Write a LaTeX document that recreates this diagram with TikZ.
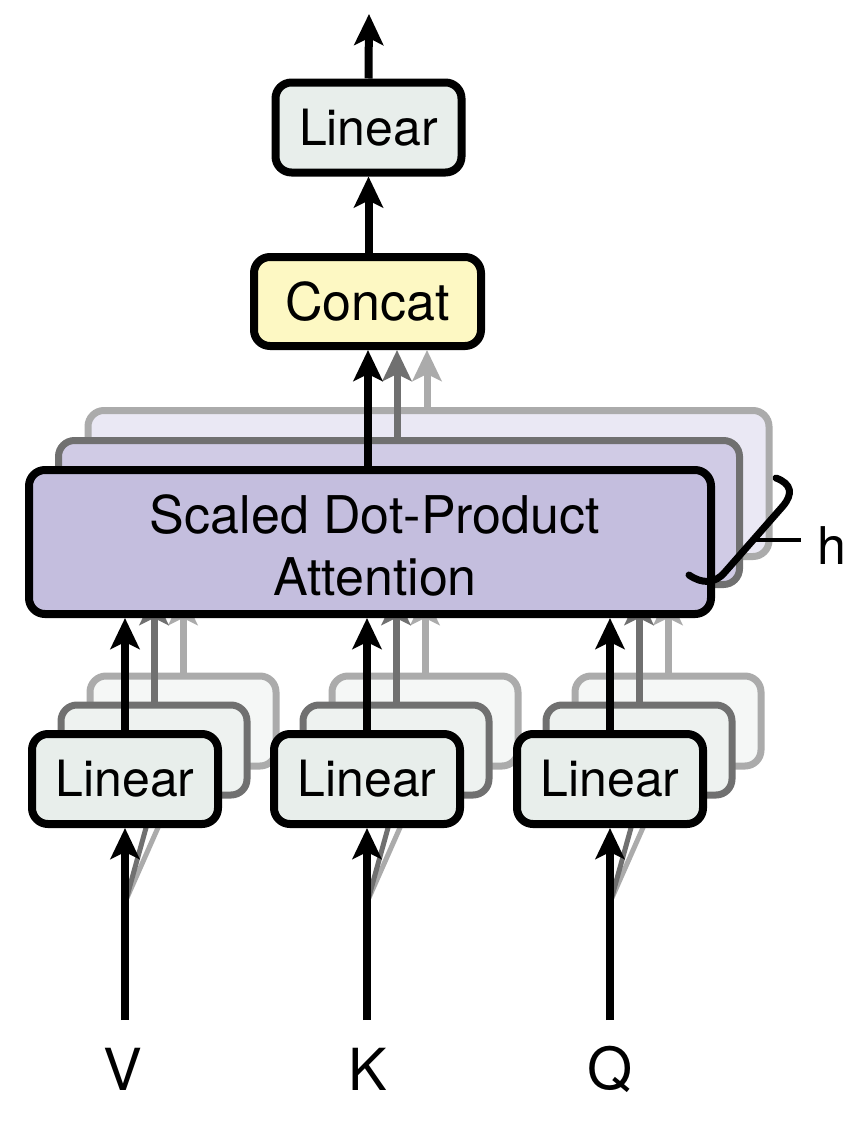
\documentclass[tikz,border=0pt]{standalone}
\usepackage{fontspec}
\setmainfont{TeX Gyre Heros}
\usetikzlibrary{arrows.meta}
\definecolor{linfill}{RGB}{232,238,235}
\definecolor{linfillb}{RGB}{238,242,240}
\definecolor{linfillc}{RGB}{245,247,246}
\definecolor{catfill}{RGB}{253,248,195}
\definecolor{attfill}{RGB}{196,190,222}
\definecolor{attfillb}{RGB}{208,203,229}
\definecolor{attfillc}{RGB}{234,232,244}
\definecolor{darkg}{RGB}{112,112,112}
\definecolor{lightg}{RGB}{171,171,171}
\tikzset{
  boxbase/.style={draw, line width=8pt, rounded corners=16pt, inner sep=0pt,
    font=\fontsize{50}{56}\selectfont},
  linbox/.style={boxbase, fill=linfill, minimum width=186pt, minimum height=90pt},
  linboxb/.style={boxbase, line width=7pt, draw=darkg, fill=linfillb, minimum width=186pt, minimum height=90pt},
  linboxc/.style={boxbase, line width=7pt, draw=lightg, fill=linfillc, minimum width=186pt, minimum height=90pt},
  attbox/.style={boxbase, fill=attfill, minimum width=682pt, minimum height=144pt},
  attboxb/.style={boxbase, line width=7pt, draw=darkg, fill=attfillb, minimum width=681pt, minimum height=144pt},
  attboxc/.style={boxbase, line width=7pt, draw=lightg, fill=attfillc, minimum width=681pt, minimum height=146pt},
  arr/.style={line width=8pt, -{Stealth[length=31pt,width=29pt,inset=7pt]}},
  arrb/.style={line width=7pt, draw=darkg, -{Stealth[length=31pt,width=29pt,inset=7pt,fill=darkg]}},
  arrc/.style={line width=7pt, draw=lightg, -{Stealth[length=31pt,width=29pt,inset=7pt,fill=lightg]}},
  diagb/.style={line width=5pt, draw=darkg},
  diagc/.style={line width=5pt, draw=lightg},
  lbl/.style={font=\fontsize{58}{64}\selectfont, inner sep=0pt}
}
\begin{document}
\begin{tikzpicture}[x=1pt,y=-1pt]
\useasboundingbox (0,0) rectangle (865,1135);
% input coordinates
\coordinate (vin) at (125,1020);
\coordinate (kin) at (367,1020);
\coordinate (qin) at (610,1020);
\coordinate (vsp) at (126,900);
\coordinate (ksp) at (368,900);
\coordinate (qsp) at (611,900);
% diagonal shadow lines (hidden behind front boxes)
\coordinate (vb2) at (154,799);
\coordinate (vb3) at (183,771);
\coordinate (kb2) at (396,799);
\coordinate (kb3) at (425,771);
\coordinate (qb2) at (639,799);
\coordinate (qb3) at (668,771);
\draw[diagc] (vsp) -- (vb3);
\draw[diagb] (vsp) -- (vb2);
\draw[diagc] (ksp) -- (kb3);
\draw[diagb] (ksp) -- (kb2);
\draw[diagc] (qsp) -- (qb3);
\draw[diagb] (qsp) -- (qb2);
% attention back boxes
\node[attboxc] (att3) at (428.5,483.5) {};
\node[attboxb] (att2) at (399,512.5) {};
% V stack
\node[linboxc] (v3) at (183,721) {};
\coordinate (v3t) at (183,594);
\draw[arrc] (v3.north) -- (v3t);
\node[linboxb] (v2) at (154,750) {};
\coordinate (v2t) at (154,594);
\draw[arrb] (v2.north) -- (v2t);
\node[linbox] (v1) at (125,779) {Linear};
% K stack
\node[linboxc] (k3) at (425,721) {};
\coordinate (k3t) at (425,594);
\draw[arrc] (k3.north) -- (k3t);
\node[linboxb] (k2) at (396,750) {};
\coordinate (k2t) at (396,594);
\draw[arrb] (k2.north) -- (k2t);
\node[linbox] (k1) at (367,779) {Linear};
% Q stack
\node[linboxc] (q3) at (668,721) {};
\coordinate (q3t) at (668,594);
\draw[arrc] (q3.north) -- (q3t);
\node[linboxb] (q2) at (639,750) {};
\coordinate (q2t) at (639,594);
\draw[arrb] (q2.north) -- (q2t);
\node[linbox] (q1) at (610,779) {Linear};
% front attention
\node[attbox] (att1) at (370,542) {};
\node[align=center, font=\fontsize{52}{62}\selectfont, inner sep=0pt] (atttxt) at (375,545) {Scaled Dot-Product\\Attention};
% arrows into attention
\draw[arr] (v1.north) -- (v1.north |- att1.south);
\draw[arr] (k1.north) -- (k1.north |- att1.south);
\draw[arr] (q1.north) -- (q1.north |- att1.south);
% inputs
\draw[arr] (vin) -- (v1.south);
\draw[arr] (kin) -- (k1.south);
\draw[arr] (qin) -- (q1.south);
\node[lbl] (V) at (123,1069) {V};
\node[lbl] (K) at (368,1069) {K};
\node[lbl] (Q) at (610,1069) {Q};
% concat
\node[boxbase, fill=catfill, minimum width=227pt, minimum height=89pt, font=\fontsize{52}{56}\selectfont] (cat) at (367.5,301.5) {Concat};
\coordinate (c3) at (427,407);
\coordinate (c2) at (397,437);
\draw[arrc] (c3) -- (c3 |- cat.south);
\draw[arrb] (c2) -- (c2 |- cat.south);
\draw[arr] (att1.north -| 368,0) -- (368,0 |- cat.south);
% top linear
\node[linbox] (top) at (368.5,127.5) {Linear};
\draw[arr] (cat.north -| top.south) -- (top.south);
\coordinate (out) at (369,14);
\draw[arr] (top.north) -- (out);
% brace and h
\draw[line width=7pt, line cap=round] (776,478) .. controls (792,484) and (793,494) .. (783,506)
  -- (725,572) .. controls (715,584) and (702,584) .. (689,575);
\coordinate (hb) at (753,540);
\node[font=\fontsize{52}{60}\selectfont, inner sep=0pt] (h) at (832,546) {h};
\draw[line width=4pt] (hb) -- (801,540);
\end{tikzpicture}
\end{document}
